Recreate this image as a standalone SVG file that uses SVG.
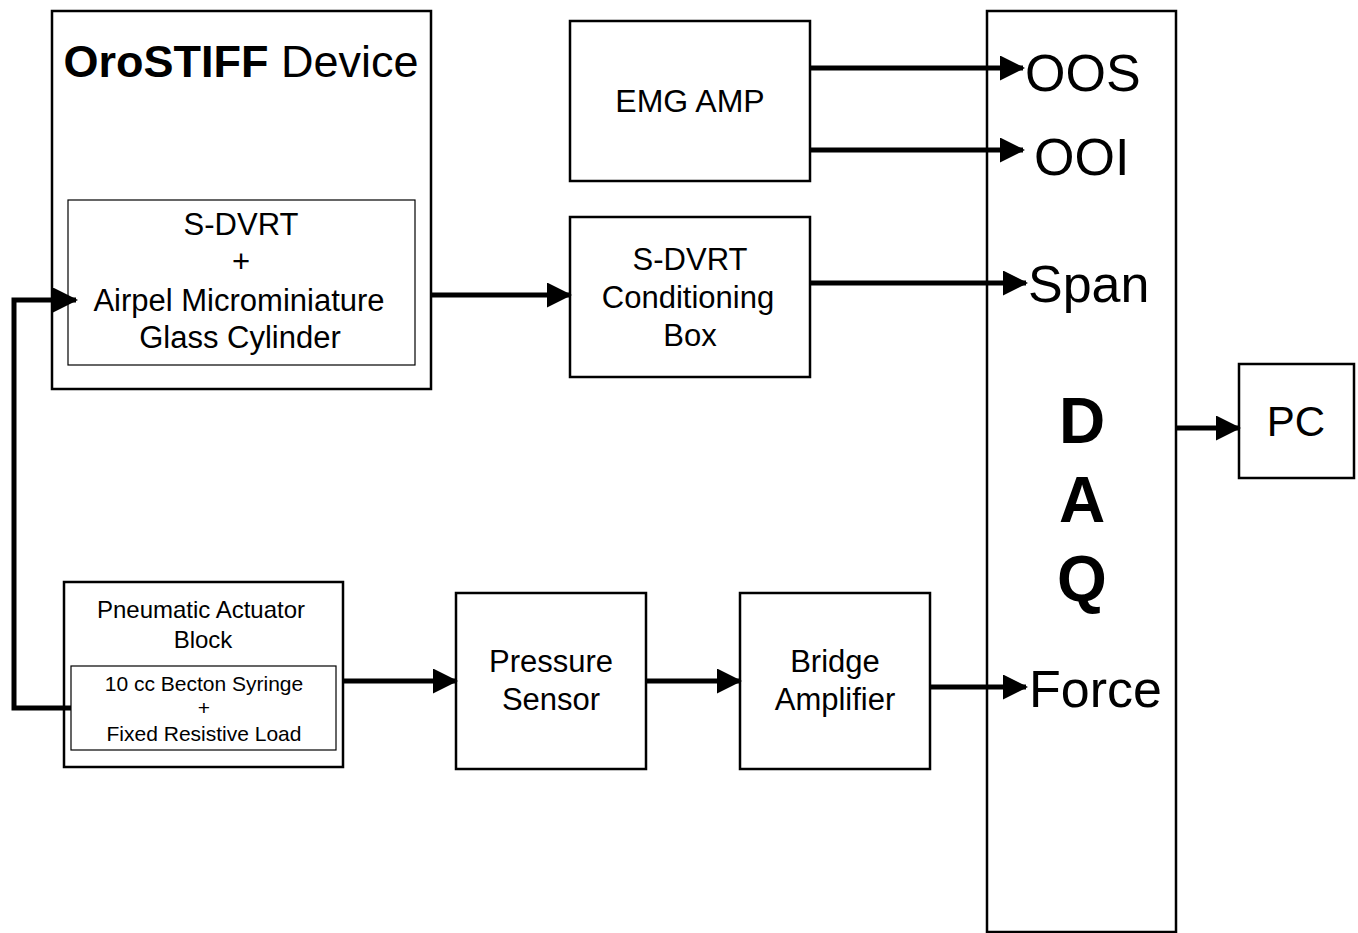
<svg xmlns="http://www.w3.org/2000/svg" width="1358" height="933" viewBox="0 0 1358 933">
<style>
.box{fill:#fff;stroke:#000;stroke-width:2.5}
.inner{fill:none;stroke:#000;stroke-width:1.2}
.t{font-family:"Liberation Sans",Arial,sans-serif;fill:#000;text-anchor:middle}
.s{text-anchor:start}
.c{fill:none;stroke:#000;stroke-width:5}
</style>
<defs>
<marker id="ah" markerWidth="5" markerHeight="5" refX="4.6" refY="2.5" orient="auto" markerUnits="strokeWidth">
<path d="M0,0 L5,2.5 L0,5 Z" fill="#000"/>
</marker>
</defs>
<rect width="1358" height="933" fill="#fff"/>
<g id="orostiff">
<rect class="box" x="52" y="11" width="379" height="378"/>
<text class="t" x="241" y="77" font-size="45"><tspan font-weight="bold">OroSTIFF</tspan> Device</text>
<rect class="inner" x="68" y="200" width="347" height="165"/>
<text class="t" font-size="31"><tspan x="241" y="235">S-DVRT</tspan><tspan x="241" y="272">+</tspan><tspan x="239" y="311">Airpel Microminiature</tspan><tspan x="240" y="348">Glass Cylinder</tspan></text>
</g>
<g id="emg">
<rect class="box" x="570" y="21" width="240" height="160"/>
<text class="t" x="690" y="112" font-size="32">EMG AMP</text>
</g>
<g id="cond">
<rect class="box" x="570" y="217" width="240" height="160"/>
<text class="t" font-size="31"><tspan x="690" y="270">S-DVRT</tspan><tspan x="688" y="308">Conditioning</tspan><tspan x="690" y="346">Box</tspan></text>
</g>
<g id="daq">
<rect class="box" x="987" y="11" width="189" height="921"/>
<text class="t s" font-size="52"><tspan x="1025" y="91">OOS</tspan><tspan x="1034" y="175">OOI</tspan><tspan x="1028" y="302">Span</tspan><tspan x="1029" y="707">Force</tspan></text>
<text class="t" font-size="64" font-weight="bold"><tspan x="1082" y="443">D</tspan><tspan x="1082" y="522">A</tspan><tspan x="1082" y="601">Q</tspan></text>
</g>
<g id="pc">
<rect class="box" x="1239" y="364" width="115" height="114"/>
<text class="t" x="1296" y="436" font-size="42">PC</text>
</g>
<g id="pneumatic">
<rect class="box" x="64" y="582" width="279" height="185"/>
<text class="t" font-size="24"><tspan x="201" y="618">Pneumatic Actuator</tspan><tspan x="203" y="648">Block</tspan></text>
<rect class="inner" x="71" y="666" width="265" height="84"/>
<text class="t" font-size="21"><tspan x="204" y="691">10 cc Becton Syringe</tspan><tspan x="204" y="715">+</tspan><tspan x="204" y="741">Fixed Resistive Load</tspan></text>
</g>
<g id="pressure">
<rect class="box" x="456" y="593" width="190" height="176"/>
<text class="t" font-size="31"><tspan x="551" y="672">Pressure</tspan><tspan x="551" y="710">Sensor</tspan></text>
</g>
<g id="bridge">
<rect class="box" x="740" y="593" width="190" height="176"/>
<text class="t" font-size="31"><tspan x="835" y="672">Bridge</tspan><tspan x="835" y="710">Amplifier</tspan></text>
</g>
<g id="connectors">
<path class="c" d="M431,295 H570" marker-end="url(#ah)"/>
<path class="c" d="M810,68 H1023" marker-end="url(#ah)"/>
<path class="c" d="M810,150 H1023" marker-end="url(#ah)"/>
<path class="c" d="M810,283 H1026" marker-end="url(#ah)"/>
<path class="c" d="M71,708 H14 V300 H76" marker-end="url(#ah)"/>
<path class="c" d="M343,681 H456" marker-end="url(#ah)"/>
<path class="c" d="M646,681 H740" marker-end="url(#ah)"/>
<path class="c" d="M930,687 H1026" marker-end="url(#ah)"/>
<path class="c" d="M1176,428 H1239" marker-end="url(#ah)"/>
</g>
</svg>
